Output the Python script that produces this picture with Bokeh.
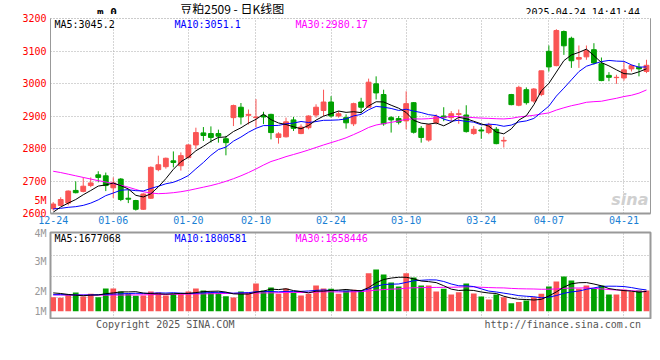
from bokeh.plotting import figure
from bokeh.models import Range1d, LinearAxis, FixedTicker, Grid
from bokeh.layouts import column
from bokeh.embed import file_html
from bokeh.resources import INLINE
from bokeh.core.properties import value

# ---------------- data ----------------
dates = ["12-24","12-25","12-26","12-27","12-30","12-31",
         "01-02","01-03","01-06","01-07","01-08","01-09","01-10",
         "01-13","01-14","01-15","01-16","01-17","01-20","01-21","01-22","01-23","01-24","01-27",
         "02-05","02-06","02-07","02-10","02-11","02-12","02-13","02-14",
         "02-17","02-18","02-19","02-20","02-21","02-24","02-25","02-26","02-27","02-28",
         "03-03","03-04","03-05","03-06","03-07","03-10","03-11","03-12","03-13","03-14",
         "03-17","03-18","03-19","03-20","03-21","03-24","03-25","03-26","03-27","03-28","03-31",
         "04-01","04-02","04-03","04-07","04-08","04-09","04-10","04-11",
         "04-14","04-15","04-16","04-17","04-18","04-21","04-22","04-23","04-24"]

opens = [2615,2625,2632,2671,2668,2686,2719,2716,2679,2706, 2647,2640,2613,2647,2735,2744,2762,2747,2772,2811,
         2848,2846,2846,2830,2895,2927,2902,2895,2902,2905, 2834,2836,2888,2846,2864,2903,2917,2943,2900,2895,
         2876,2943,2927,2999,2966,2895,2892,2885,2941,2862, 2826,2880,2900,2895,2905,2903,2846,2857,2849,2859,
         2823,2966,2933,2981,2946,2966,3099,3055,3160,3139, 3075,3082,3104,3061,3025,3018,3017,3045,3050,3037]
highs = [2635,2650,2671,2699,2711,2711,2730,2726,2711,2709, 2673,2642,2662,2745,2778,2772,2791,2788,2813,2864,
         2866,2868,2858,2839,2935,2940,2920,2952,2913,2907, 2850,2895,2897,2874,2902,2936,2981,2961,2915,2905,
         2941,2956,3015,3022,2981,2900,2900,2976,2943,2869, 2876,2905,2927,2915,2920,2933,2869,2866,2879,2866,
         2836,2968,2993,2988,2986,3039,3117,3167,3163,3144, 3117,3117,3124,3080,3035,3027,3066,3058,3063,3073]
lows = [2609,2623,2625,2662,2665,2681,2696,2669,2648,2638, 2632,2609,2611,2645,2730,2738,2742,2732,2770,2798,
        2823,2818,2818,2779,2869,2874,2874,2865,2875,2828, 2815,2834,2854,2844,2859,2895,2900,2895,2895,2861,
        2869,2908,2925,2951,2870,2849,2874,2859,2846,2818, 2821,2874,2884,2884,2876,2849,2842,2830,2844,2813,
        2803,2933,2930,2935,2941,2961,3037,3053,3088,3048, 3048,3073,3058,3007,3007,2999,3009,3037,3022,3032]
closes = [2629,2643,2669,2664,2684,2694,2711,2686,2694,2643, 2644,2613,2660,2742,2750,2770,2757,2778,2811,2849,
          2840,2834,2838,2818,2932,2897,2905,2897,2897,2849, 2845,2882,2862,2866,2900,2927,2943,2900,2907,2879,
          2938,2927,3004,2971,2876,2888,2881,2938,2850,2834, 2873,2898,2895,2907,2907,2852,2859,2854,2872,2815,
          2825,2935,2988,2941,2983,3039,3051,3163,3116,3070, 3080,3101,3063,3009,3019,3019,3042,3055,3045,3056]

ma5 = [2604,2620,2632,2643,
       2657.7,2670.7,2684.4,2687.9,2693.8,2685.6,2675.6,2656,2650.9,2660.5,
       2681.9,2707.2,2735.9,2759.3,2773.2,2792.9,2806.8,2822.1,2834.1,2835.5,
       2852.2,2863.7,2878,2889.8,2905.5,2888.8,2878.5,2873.8,2866.8,2860.7,
       2870.9,2887.4,2899.6,2907.1,2915.3,2911.2,2913.2,2910.2,2931,2943.8,
       2943.2,2933.2,2924,2910.8,2886.6,2878,2875.1,2878.4,2869.8,2881.2,
       2895.9,2891.6,2883.8,2875.7,2868.8,2850.4,2845.1,2860.4,2887.3,2901,
       2934.6,2977.4,3000.4,3035.3,3070.4,3087.7,3095.8,3105.8,3085.8,3064.4,
       3054.2,3042,3030.4,3028.8,3035.9,3045.2]
ma10 = [2614,2616,2619,2621,2625,2632,2642,2655,2663,
        2671.7,2673.2,2670.2,2669.4,2677.1,2683.8,2691.4,2696,2705.1,2716.8,
        2737.4,2757,2779,2796.7,2804.4,2822.6,2835.2,2850,2862,2870.5,
        2870.5,2871.1,2875.9,2878.3,2883.1,2879.9,2882.9,2886.7,2887,2888,
        2891.1,2900.3,2904.9,2919.1,2929.5,2927.2,2923.2,2917.1,2920.9,2915.2,
        2910.6,2904.1,2901.2,2890.3,2883.9,2886.9,2883.4,2881.1,2872.8,2875,
        2873.2,2868.4,2872.1,2881.5,2884.9,2892.5,2911.3,2930.4,2961.3,2985.7,
        3011.2,3036.6,3053.1,3060.6,3067.4,3071,3068.9,3068.1,3057.3,3050.2,
        3051.1]
ma30 = [2730,2726,2721,2716,2711,2706,2701,2697,2692,2687,2681,2674,2667,2663,2661,
        2662,2664,2667,2671,2676,2681,2686,2692,2699,2707,2716,2726,2737,2749,
        2759.9,2767.1,2775,2781.5,2788.2,2795.4,2803.2,2810.9,2818,2825.1,
        2833,2842.8,2853.2,2864.7,2872.3,2876.5,2880.5,2884.6,2889.9,2891.2,
        2890.7,2891.8,2894,2895.9,2898.8,2898,2896.5,2895,2893.5,2892.7,
        2891.6,2891,2892.7,2897,2899.4,2902.2,2906,2909.6,2918.3,2925.3,
        2931.6,2936.4,2942.2,2944.1,2945.4,2950.1,2954.5,2959.9,2963.8,2970.3,
        2980.17]

# volume in millions of lots
volume_m = [1.19,1.13,1.39,1.58,1.25,1.47,1.19,1.92,1.92,1.67, 1.47,1.30,1.33,1.67,1.58,1.33,1.47,1.50,1.67,1.92,
            1.75,1.58,1.58,1.27,1.16,1.67,1.58,2.35,1.75,2.01, 1.47,1.92,1.58,1.33,1.47,2.18,1.92,1.90,1.47,1.75,
            1.81,1.75,3.22,3.53,3.11,2.43,2.09,3.22,2.86,2.18, 2.18,1.67,1.90,1.42,1.61,2.35,1.50,1.25,0.99,1.42,
            1.19,0.68,0.77,0.91,1.19,1.47,2.09,2.52,2.94,2.60, 1.90,2.18,1.90,2.18,1.42,1.42,1.81,1.67,1.75,1.75]
vma5_m = [1.55,1.50,1.42,1.36,
          1.308,1.364,1.376,1.482,1.55,1.634,1.634,1.656,1.538,1.488,
          1.47,1.442,1.476,1.51,1.51,1.578,1.662,1.684,1.70,1.62,
          1.468,1.452,1.452,1.606,1.702,1.872,1.832,1.90,1.746,1.662,
          1.554,1.696,1.696,1.76,1.788,1.844,1.77,1.736,2.0,2.412,
          2.684,2.808,2.876,2.876,2.742,2.556,2.506,2.422,2.158,1.87,
          1.756,1.79,1.756,1.626,1.54,1.502,1.27,1.106,1.01,0.994,
          0.948,1.004,1.286,1.636,2.042,2.324,2.41,2.428,2.304,2.152,
          1.916,1.82,1.746,1.70,1.614,1.677068]
vma10_m = [1.40,1.40,1.39,1.38,1.37,1.38,1.40,1.43,1.45,
           1.471,1.499,1.516,1.51,1.519,1.552,1.538,1.566,1.524,1.499,
           1.524,1.552,1.58,1.605,1.565,1.523,1.557,1.568,1.653,1.661,
           1.67,1.642,1.676,1.676,1.682,1.713,1.764,1.798,1.753,1.725,
           1.699,1.733,1.716,1.88,2.10,2.264,2.289,2.306,2.438,2.577,
           2.62,2.657,2.649,2.517,2.306,2.156,2.148,2.089,1.892,1.705,
           1.629,1.53,1.431,1.318,1.267,1.225,1.137,1.196,1.323,1.518,
           1.636,1.707,1.857,1.97,2.097,2.12,2.115,2.087,2.002,1.883,
           1.800581]
vma30_m = [1.38,1.38,1.37,1.37,1.37,1.36,1.36,1.36,1.37,1.37,1.38,1.38,1.39,1.40,1.41,
           1.42,1.43,1.44,1.45,1.46,1.47,1.48,1.49,1.50,1.51,1.52,1.53,1.54,1.55,
           1.555,1.564,1.591,1.597,1.589,1.596,1.62,1.644,1.643,1.628,
           1.631,1.642,1.657,1.72,1.782,1.833,1.87,1.891,1.948,1.988,
           1.996,2.011,2.014,2.024,2.029,2.044,2.067,2.064,2.028,2.002,
           1.983,1.973,1.932,1.905,1.891,1.882,1.858,1.864,1.884,1.933,
           1.962,1.965,1.979,1.935,1.89,1.834,1.80,1.791,1.739,1.702,
           1.658446]

tick_labels = ["12-24","01-06","01-20","02-10","02-24","03-10","03-24","04-07","04-21"]
price_ticks = [2600, 2700, 2800, 2900, 3000, 3100, 3200]
vol_tick_labels = ["1M", "2M", "3M", "4M", "5M"]
vol_tick_values_m = [0.0, 1.695, 4.21, 6.66, 9.38]   # where Sina prints its volume labels
five_m_price = 2640                                    # "5M" sits inside the price panel's margin

title_text = "豆粕2509 - 日K线图"
symbol_text = "m 0"
time_text = "2025-04-24 14:41:44"
copyright_text = "Copyright 2025 SINA.COM"
url_text = "http://finance.sina.com.cn"
logo_text = "sina"

# ---------------- styles / geometry ----------------
UP = "#fa5454"
DOWN = "#00a000"
MONO = "DejaVu Sans Mono"
GRID = "#aaaaaa"
BORDER = "#999999"
BLUE_LBL = "#1a7fd4"

n = len(dates)
idx = list(range(n))
tick_idx = [dates.index(d) for d in tick_labels]
colors = [UP if c >= o else DOWN for o, c in zip(opens, closes)]
vol = [v * 1e6 for v in volume_m]
vma5 = [v * 1e6 for v in vma5_m]
vma10 = [v * 1e6 for v in vma10_m]
vma30 = [v * 1e6 for v in vma30_m]

W = 660
X0, X1 = -7.0173, 80.866          # index units over a full-width strip (header/footer)
XL, XR = -0.3595, 79.534          # index units over the 600px panel frame (x 50..650)
VB, VT = -0.6186e6, 6.669e6       # volume frame (page y 318 .. 232)

def txt(fig, xs, ys, ss, color, size="10px", font=MONO, align="left", xo=0, yr="default", style="normal"):
    fig.text(x=xs, y=ys, text=ss, text_color=color, text_font=value(font), text_font_size=size,
             text_align=align, text_baseline="middle", x_offset=xo, text_font_style=style,
             y_range_name=yr)

def bare(height, y_range):
    f = figure(width=W, height=height, x_range=Range1d(X0, X1), y_range=y_range,
               x_axis_type=None, y_axis_type=None, output_backend="svg", toolbar_location=None,
               min_border=0, min_border_left=0, min_border_right=0, min_border_top=0, min_border_bottom=0)
    f.outline_line_color = None
    return f

def style_axis(ax, color, standoff):
    ax.major_label_text_color = color
    ax.major_label_text_font = MONO
    ax.major_label_text_font_size = "10px"
    ax.major_tick_line_color = None
    ax.minor_tick_line_color = None
    ax.major_tick_out = 0
    ax.major_tick_in = 0
    ax.minor_tick_out = 0
    ax.minor_tick_in = 0
    ax.major_label_standoff = standoff

# ---------------- header strip (page y 0..14) ----------------
head = bare(14, Range1d(14, 0))
txt(head, [XL], [11.5], [symbol_text], "#000000", size="11px", xo=1, style="bold")
txt(head, [19.6], [8.0], [title_text], "#000000", size="12px", font="Noto Sans CJK SC", align="center")
txt(head, [79.467], [11.5], [time_text], "#000000", align="right", xo=-1)

# ---------------- price panel (page y 14..227, frame 18..213) ----------------
xrange_panel = Range1d(XL, XR)
main = figure(width=W, height=213, x_range=xrange_panel, y_range=Range1d(price_ticks[0], price_ticks[-1]),
              output_backend="svg", toolbar_location=None,
              min_border_left=50, min_border_right=10, min_border_top=4, min_border_bottom=14)
main.outline_line_color = BORDER
main.outline_line_dash = "1 2"

ya = main.yaxis[0]
ya.ticker = FixedTicker(ticks=price_ticks + [five_m_price])
ya.major_label_overrides = {five_m_price: vol_tick_labels[4]}
style_axis(ya, "#ff0000", 4)
ya.axis_line_color = BORDER

xa = main.xaxis[0]
xa.ticker = FixedTicker(ticks=tick_idx)
xa.major_label_overrides = {i: d for i, d in zip(tick_idx, tick_labels)}
style_axis(xa, BLUE_LBL, 2)
xa.axis_line_color = BORDER
xa.axis_line_width = 2

ra = LinearAxis(ticker=FixedTicker(ticks=[]), major_label_text_font_size="0px",
                axis_line_color=BORDER, major_tick_out=0, major_tick_in=0,
                minor_tick_out=0, minor_tick_in=0, major_label_standoff=0)
main.add_layout(ra, "right")

main.xgrid[0].ticker = FixedTicker(ticks=tick_idx[1:])
main.ygrid[0].ticker = FixedTicker(ticks=price_ticks[1:-1])
for g in (main.xgrid[0], main.ygrid[0]):
    g.grid_line_color = GRID
    g.grid_line_dash = "1 2"
    g.grid_line_width = 1

main.segment(x0=idx, y0=lows, x1=idx, y1=highs, line_color=colors, line_width=1)
main.vbar(x=idx, width=0.64, top=opens, bottom=closes, fill_color=colors, line_color=colors, line_width=1)
main.line(idx, ma30, line_color="#ff00ff", line_width=1)
main.line(idx, ma10, line_color="#0000ff", line_width=1)
main.line(idx, ma5, line_color="#000000", line_width=1)

LEG_Y = 3183.0
txt(main, [XL], [LEG_Y], ["MA5:%s" % ma5[-1]], "#000000", xo=4)
txt(main, [XL], [LEG_Y], ["MA10:%s" % ma10[-1]], "#0000ff", xo=124)
txt(main, [XL], [LEG_Y], ["MA30:%s" % ma30[-1]], "#ff00ff", xo=245)
txt(main, [XR], [2642.0], [logo_text], "#d0d0d0", size="16px", font="DejaVu Sans", align="right",
    xo=-2, style="bold italic")

# ---------------- volume panel (page y 227..319, frame 232..318) ----------------
volf = figure(width=W, height=92, x_range=xrange_panel, y_range=Range1d(VB, VT),
              output_backend="svg", toolbar_location=None,
              min_border_left=50, min_border_right=10, min_border_top=5, min_border_bottom=1)
volf.outline_line_color = BORDER
volf.outline_line_width = 2
volf.xaxis.visible = False
volf.extra_y_ranges = {"quarters": Range1d(0, 4.125)}

va = volf.yaxis[0]
vticks = [round(v * 1e6) for v in vol_tick_values_m[:4]]
va.ticker = FixedTicker(ticks=vticks)
va.major_label_overrides = {t: s for t, s in zip(vticks, vol_tick_labels[:4])}
style_axis(va, "#999999", 4)
va.axis_line_color = None

volf.ygrid[0].visible = False
volf.xgrid[0].ticker = FixedTicker(ticks=tick_idx[1:])
volf.xgrid[0].grid_line_color = GRID
volf.xgrid[0].grid_line_dash = "1 2"
volf.add_layout(Grid(dimension=1, ticker=FixedTicker(ticks=[1, 2, 3]), y_range_name="quarters",
                     grid_line_color=GRID, grid_line_dash="1 2"))

volf.vbar(x=idx, width=0.76, top=vol, bottom=0, fill_color=colors, line_color=None)
volf.line(idx, vma30, line_color="#ff00ff", line_width=1)
volf.line(idx, vma10, line_color="#0000ff", line_width=1)
volf.line(idx, vma5, line_color="#000000", line_width=1)

VLEG_Y = 6.13e6
txt(volf, [XL], [VLEG_Y], ["MA5:%d" % round(vma5[-1])], "#000000", xo=4)
txt(volf, [XL], [VLEG_Y], ["MA10:%d" % round(vma10[-1])], "#0000ff", xo=124)
txt(volf, [XL], [VLEG_Y], ["MA30:%d" % round(vma30[-1])], "#ff00ff", xo=245)

# ---------------- footer strip (page y 319..360) ----------------
foot = bare(41, Range1d(41, 0))
txt(foot, [XL], [5.0], [copyright_text], "#555555")
txt(foot, [79.467], [5.0], [url_text], "#555555", align="right", xo=0)

layout = column(head, main, volf, foot, spacing=0)
open("out.html", "w").write(file_html(layout, INLINE))
